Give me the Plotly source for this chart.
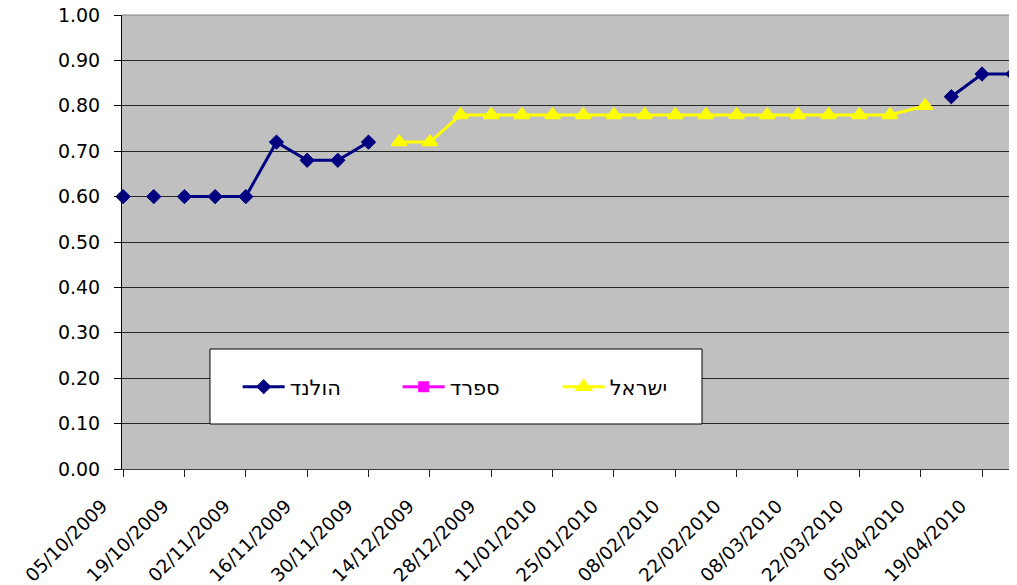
import plotly.graph_objects as go

# ---- data ----
tick_dates = ["2009-10-05", "2009-10-19", "2009-11-02", "2009-11-16", "2009-11-30",
              "2009-12-14", "2009-12-28", "2010-01-11", "2010-01-25", "2010-02-08",
              "2010-02-22", "2010-03-08", "2010-03-22", "2010-04-05", "2010-04-19"]
tick_labels = ["05/10/2009", "19/10/2009", "02/11/2009", "16/11/2009", "30/11/2009",
               "14/12/2009", "28/12/2009", "11/01/2010", "25/01/2010", "08/02/2010",
               "22/02/2010", "08/03/2010", "22/03/2010", "05/04/2010", "19/04/2010"]
y_ticks = [0.0, 0.1, 0.2, 0.3, 0.4, 0.5, 0.6, 0.7, 0.8, 0.9, 1.0]
y_labels = ["0.00", "0.10", "0.20", "0.30", "0.40", "0.50", "0.60", "0.70", "0.80", "0.90", "1.00"]

holland_x = ["2009-10-05", "2009-10-08", "2009-10-12", "2009-10-15", "2009-10-19",
             "2009-10-26", "2009-11-02", "2009-11-09", "2009-11-16", "2009-11-23",
             "2009-11-30", "2009-12-03", "2010-04-12", "2010-04-19", "2010-04-26"]
holland_y = [0.60, None, 0.60, None, 0.60,
             0.60, 0.60, 0.72, 0.68, 0.68,
             0.72, None, 0.82, 0.87, 0.87]

spain_x = ["2009-10-05", "2009-10-12"]
spain_y = [None, None]

israel_x = ["2009-12-07", "2009-12-14", "2009-12-21", "2009-12-28", "2010-01-04",
            "2010-01-11", "2010-01-18", "2010-01-25", "2010-02-01", "2010-02-08",
            "2010-02-15", "2010-02-22", "2010-03-01", "2010-03-08", "2010-03-15",
            "2010-03-22", "2010-03-29", "2010-04-06"]
israel_y = [0.72, 0.72, 0.78, 0.78, 0.78,
            0.78, 0.78, 0.78, 0.78, 0.78,
            0.78, 0.78, 0.78, 0.78, 0.78,
            0.78, 0.78, 0.80]

FONT = "DejaVu Sans"

fig = go.Figure()
fig.add_trace(go.Scatter(
    x=holland_x, y=holland_y, name="הולנד", mode="lines+markers",
    line=dict(color="#000080", width=3),
    marker=dict(symbol="diamond", size=11, color="#000080",
                line=dict(color="#000080", width=1)),
    cliponaxis=False,
))
fig.add_trace(go.Scatter(
    x=spain_x, y=spain_y, name="ספרד", mode="lines+markers",
    line=dict(color="#FF00FF", width=3),
    marker=dict(symbol="square", size=11, color="#FF00FF"),
))
fig.add_trace(go.Scatter(
    x=israel_x, y=israel_y, name="ישראל", mode="lines+markers",
    line=dict(color="#FFFF00", width=3),
    marker=dict(symbol="triangle-up", size=13, color="#FFFF00",
                line=dict(color="#FFFF00", width=2)),
))

fig.update_layout(
    width=1009, height=577,
    margin=dict(l=114, r=1, t=7, b=116, autoexpand=False),
    paper_bgcolor="white",
    plot_bgcolor="#C0C0C0",
    font=dict(family=FONT, size=19, color="black"),
    showlegend=True,
    legend=dict(
        orientation="h",
        x=0.1294, y=0.1806, xanchor="left", yanchor="middle",
        bgcolor="rgba(0,0,0,0)", borderwidth=0,
        font=dict(family=FONT, size=21, color="black"),
        itemwidth=42,
        entrywidth=103, entrywidthmode="pixels",
    ),
    xaxis=dict(
        type="date",
        range=["2009-10-04 18:00", "2010-04-26 18:00"],
        tickvals=tick_dates, ticktext=tick_labels,
        tickangle=-45,
        showgrid=False, zeroline=False,
        showline=True, linecolor="#404040", linewidth=1,
        ticks="outside", ticklen=7, tickcolor="#202020",
        tickfont=dict(family=FONT, size=18.5),
        ticklabelshift=-21, ticklabelstandoff=11,
        ticklabeloverflow="allow", automargin=False,
    ),
    yaxis=dict(
        range=[0, 1.0],
        tickvals=y_ticks, ticktext=y_labels,
        showgrid=True, gridcolor="#262626", gridwidth=1,
        zeroline=False,
        showline=True, linecolor="black", linewidth=1,
        ticks="outside", ticklen=7, tickcolor="black",
        tickfont=dict(family=FONT, size=19),
        ticklabelstandoff=10,
        ticklabeloverflow="allow", automargin=False,
    ),
    shapes=[
        dict(type="line", xref="paper", yref="paper", x0=0, x1=1, y0=1, y1=1,
             line=dict(color="#808080", width=1), layer="above"),
        dict(type="line", xref="paper", yref="paper", x0=1, x1=1, y0=0, y1=1,
             line=dict(color="#808080", width=1), layer="above"),
        dict(type="rect", xref="paper", yref="paper",
             x0=0.0984, x1=0.6488, y0=0.0991, y1=0.2643,
             fillcolor="white", line=dict(color="black", width=1), layer="above"),
    ],
)

fig.write_html("out.html")
